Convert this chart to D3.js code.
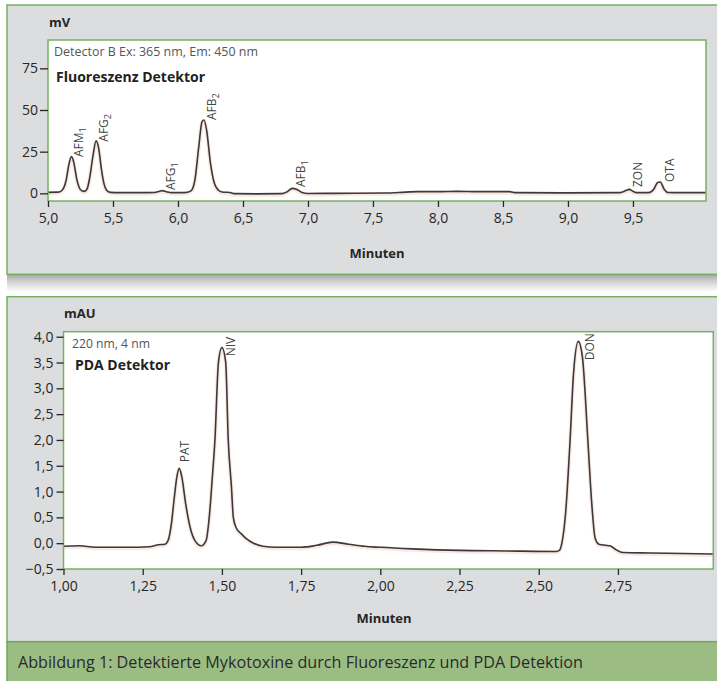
<!DOCTYPE html>
<html>
<head>
<meta charset="utf-8">
<script src="https://cdn.jsdelivr.net/npm/d3@7"></script>
<style>
  body { margin: 0; background: #ffffff; }
  svg { display: block; }
  text { font-family: "Open Sans", "Noto Sans", "DejaVu Sans", sans-serif; }
</style>
</head>
<body>
<svg id="chart" width="717" height="681"></svg>
<script>
// ---- Fluorescence detector trace (minutes, mV) ----
const fluoTime = [5.00, 5.08, 5.11, 5.14, 5.16, 5.18, 5.20, 5.22, 5.24, 5.26, 5.28, 5.30, 5.32, 5.345, 5.37, 5.39, 5.41, 5.43, 5.45, 5.48,
  5.55, 5.70, 5.82, 5.86, 5.88, 5.91, 5.95, 6.05, 6.10, 6.13, 6.16, 6.185, 6.20, 6.22, 6.25, 6.28, 6.31, 6.34, 6.40, 6.43,
  6.60, 6.80, 6.84, 6.88, 6.91, 6.95, 7.00, 7.20, 7.60, 7.70, 7.85, 8.00, 8.15, 8.30, 8.55, 8.60, 9.00, 9.40, 9.45, 9.47,
  9.50, 9.53, 9.62, 9.66, 9.69, 9.71, 9.74, 9.77, 9.85, 10.06];
const fluoSignal = [0.6, 0.7, 2.0, 8.0, 17.0, 22.0, 18.0, 9.0, 3.5, 1.5, 1.2, 2.5, 9.0, 22.0, 31.5, 27.0, 15.0, 6.0, 2.0, 0.6,
  0.4, 0.4, 0.5, 1.3, 1.6, 1.0, 0.4, 0.4, 1.5, 8.0, 28.0, 43.0, 44.0, 38.0, 18.0, 6.0, 2.0, 0.8, 0.5, -0.2,
  -0.3, -0.2, 1.0, 3.0, 2.5, 0.7, -0.1, 0.0, 0.2, 0.5, 1.0, 1.0, 1.2, 1.0, 1.0, 0.4, 0.3, 0.4, 1.8, 2.4,
  1.2, 0.4, 0.4, 2.5, 6.5, 6.8, 2.5, 0.5, 0.4, 0.4];

// Peak names and where their labels sit (minutes, mV)
const fluoPeakNames = ["AFM", "AFG", "AFG", "AFB", "AFB", "ZON", "OTA"];
const fluoPeakSubs  = ["1", "2", "1", "2", "1", "", ""];
const fluoLabelTime = [5.269, 5.462, 5.977, 6.292, 6.977, 9.569, 9.815];
const fluoLabelValue = [21.8, 31.0, 2.0, 44.0, 3.8, 3.8, 6.8];

const fluoXTicks = [5.0, 5.5, 6.0, 6.5, 7.0, 7.5, 8.0, 8.5, 9.0, 9.5];
const fluoYTicks = [0, 25, 50, 75];

// ---- PDA detector trace (minutes, mAU) ----
const pdaTime = [1.00, 1.05, 1.10, 1.20, 1.27, 1.30, 1.32, 1.33, 1.34, 1.35, 1.357, 1.365, 1.373, 1.386, 1.40, 1.415, 1.435,
  1.45, 1.46, 1.47, 1.478, 1.489, 1.50, 1.512, 1.52, 1.53, 1.536, 1.545, 1.563, 1.575, 1.60, 1.63, 1.67, 1.75, 1.80, 1.85,
  1.90, 1.95, 2.00, 2.10, 2.25, 2.40, 2.555, 2.565, 2.573, 2.585, 2.599, 2.61, 2.625, 2.638, 2.655, 2.667, 2.678, 2.69,
  2.71, 2.725, 2.745, 2.765, 2.85, 2.95, 3.05];
const pdaSignal = [-0.06, -0.05, -0.08, -0.08, -0.07, -0.03, -0.02, 0.05, 0.35, 0.9, 1.25, 1.45, 1.3, 0.75, 0.3, 0.05, -0.05,
  0.05, 0.5, 1.3, 2.0, 3.5, 3.79, 3.5, 2.0, 1.1, 0.5, 0.3, 0.17, 0.1, 0.0, -0.06, -0.08, -0.08, -0.04, 0.02,
  -0.02, -0.06, -0.08, -0.11, -0.14, -0.15, -0.16, -0.14, 0.0, 0.6, 2.0, 3.3, 3.91, 3.6, 2.0, 0.8, 0.1, -0.02,
  -0.04, -0.05, -0.13, -0.18, -0.19, -0.20, -0.21];

const pdaPeakNames = ["PAT", "NIV", "DON"];
const pdaLabelTime = [1.396, 1.541, 2.675];
const pdaLabelValue = [1.567, 3.62, 3.545];

const pdaXTicks = [1.00, 1.25, 1.50, 1.75, 2.00, 2.25, 2.50, 2.75];
const pdaYTicks = [-0.5, 0.0, 0.5, 1.0, 1.5, 2.0, 2.5, 3.0, 3.5, 4.0];

// ---- styling ----
const GREEN = "#77b062";
const PANEL = "#dcdddf";
const INK = "#262626";
const comma = f => v => f(v).replace(".", ",");

const svg = d3.select("#chart");

// shadow under the first panel
const defs = svg.append("defs");
const grad = defs.append("linearGradient").attr("id", "shadow").attr("x1", 0).attr("y1", 0).attr("x2", 0).attr("y2", 1);
grad.append("stop").attr("offset", "0%").attr("stop-color", "#a9a9a9");
grad.append("stop").attr("offset", "35%").attr("stop-color", "#cfcfcf");
grad.append("stop").attr("offset", "100%").attr("stop-color", "#ffffff");
svg.append("rect").attr("x", 7).attr("y", 275).attr("width", 712).attr("height", 17).attr("fill", "url(#shadow)");

function drawPanel(cfg) {
  const g = svg.append("g");
  // panel background
  g.append("rect").attr("x", cfg.frame[0]).attr("y", cfg.frame[1])
    .attr("width", cfg.frame[2]).attr("height", cfg.frame[3])
    .attr("fill", PANEL).attr("stroke", GREEN).attr("stroke-width", 1.5);

  const x = d3.scaleLinear().domain(cfg.xDomain).range([cfg.plot.left, cfg.plot.right]);
  const y = d3.scaleLinear().domain(cfg.yDomain).range([cfg.plot.bottom, cfg.plot.top]);

  // plot area
  g.append("rect").attr("x", cfg.plot.left).attr("y", cfg.plot.top)
    .attr("width", cfg.plot.right - cfg.plot.left).attr("height", cfg.plot.bottom - cfg.plot.top)
    .attr("fill", "#ffffff");

  // trace
  const pts = cfg.time.map((t, i) => [t, cfg.signal[i]]);
  const line = d3.line().x(d => x(d[0])).y(d => y(d[1])).curve(d3.curveMonotoneX);
  g.append("path").datum(pts).attr("d", line).attr("fill", "none")
    .attr("stroke", "#f1bfb0").attr("stroke-width", 4).attr("stroke-opacity", 0.35)
    .attr("transform", "translate(0,1)");
  g.append("path").datum(pts).attr("d", line).attr("fill", "none")
    .attr("stroke", "#3a3a3a").attr("stroke-width", 1.6).attr("stroke-linejoin", "round");

  // plot frame on top of the trace
  g.append("rect").attr("x", cfg.plot.left).attr("y", cfg.plot.top)
    .attr("width", cfg.plot.right - cfg.plot.left).attr("height", cfg.plot.bottom - cfg.plot.top)
    .attr("fill", "none").attr("stroke", GREEN).attr("stroke-width", 1.5);

  // axes
  const xAxis = d3.axisBottom(x).tickValues(cfg.xTicks).tickFormat(cfg.xFormat)
    .tickSizeInner(6).tickSizeOuter(0).tickPadding(6);
  const gx = g.append("g").attr("transform", `translate(0,${cfg.plot.bottom})`).call(xAxis);
  const yAxis = d3.axisLeft(y).tickValues(cfg.yTicks).tickFormat(cfg.yFormat)
    .tickSizeInner(cfg.yTickSize).tickSizeOuter(0).tickPadding(cfg.yPad);
  const gy = g.append("g").attr("transform", `translate(${cfg.plot.left},0)`).call(yAxis);
  [gx, gy].forEach(a => {
    a.select(".domain").remove();
    a.selectAll(".tick line").attr("stroke", INK).attr("stroke-width", 1.3);
    a.selectAll(".tick text").attr("fill", INK).style("font-size", "14px")
      .style("font-family", '"Open Sans", "Noto Sans", sans-serif');
  });

  // unit and axis title
  g.append("text").attr("x", cfg.unitPos[0]).attr("y", cfg.unitPos[1]).attr("dy", "0.35em")
    .attr("fill", INK).style("font-size", "13px").style("font-weight", 700).text(cfg.unit);
  g.append("text").attr("x", cfg.titlePos[0]).attr("y", cfg.titlePos[1]).attr("dy", "0.35em")
    .attr("text-anchor", "middle").attr("fill", INK)
    .style("font-size", "13px").style("font-weight", 700).text("Minuten");

  // detector notes
  g.append("text").attr("x", cfg.notePos[0]).attr("y", cfg.notePos[1]).attr("dy", "0.35em")
    .attr("fill", "#555555").style("font-size", "12px")
    .attr("textLength", cfg.noteLen).attr("lengthAdjust", "spacingAndGlyphs").text(cfg.note);
  g.append("text").attr("x", cfg.namePos[0]).attr("y", cfg.namePos[1]).attr("dy", "0.35em")
    .attr("fill", "#222222").style("font-size", "15px").style("font-weight", 700)
    .attr("textLength", cfg.nameLen).attr("lengthAdjust", "spacingAndGlyphs").text(cfg.name);

  // peak labels, rotated to read upwards
  cfg.labels.forEach((lab, i) => {
    const t = g.append("text")
      .attr("transform", `translate(${x(cfg.labelTime[i])},${y(cfg.labelValue[i])}) rotate(-90)`)
      .attr("fill", "#444444").style("font-size", "12px");
    t.append("tspan").text(lab);
    if (cfg.subs && cfg.subs[i]) {
      t.append("tspan").attr("dy", 3).style("font-size", "9px").text(cfg.subs[i]);
    }
  });
}

drawPanel({
  frame: [7, 5, 714, 269.3],
  plot: { left: 48, right: 706, top: 40, bottom: 201 },
  xDomain: [5.0, 10.062], yDomain: [-4.6, 92],
  time: fluoTime, signal: fluoSignal,
  xTicks: fluoXTicks, yTicks: fluoYTicks,
  xFormat: comma(d3.format(".1f")), yFormat: d3.format("d"),
  yTickSize: 8, yPad: 2,
  unit: "mV", unitPos: [49, 22],
  titlePos: [377, 253],
  note: "Detector B Ex: 365 nm, Em: 450 nm", notePos: [54, 52], noteLen: 204,
  name: "Fluoreszenz Detektor", namePos: [56, 77], nameLen: 149,
  labels: fluoPeakNames, subs: fluoPeakSubs,
  labelTime: fluoLabelTime, labelValue: fluoLabelValue
});

drawPanel({
  frame: [7, 296.7, 714, 345],
  plot: { left: 63.5, right: 713.3, top: 331.7, bottom: 569 },
  xDomain: [1.0, 3.051], yDomain: [-0.5, 4.097],
  time: pdaTime, signal: pdaSignal,
  xTicks: pdaXTicks, yTicks: pdaYTicks,
  xFormat: comma(d3.format(".2f")), yFormat: comma(d3.format(".1f")),
  yTickSize: 7, yPad: 3,
  unit: "mAU", unitPos: [64, 313],
  titlePos: [384, 618],
  note: "220 nm, 4 nm", notePos: [72, 344], noteLen: 78,
  name: "PDA Detektor", namePos: [75, 365], nameLen: 95,
  labels: pdaPeakNames, subs: null,
  labelTime: pdaLabelTime, labelValue: pdaLabelValue
});

// caption band
svg.append("rect").attr("x", 7).attr("y", 641.7).attr("width", 714).attr("height", 45)
  .attr("fill", "#9bbd84").attr("stroke", "#6fa85a").attr("stroke-width", 1.5);
svg.append("text").attr("x", 18).attr("y", 662).attr("dy", "0.35em")
  .attr("fill", "#2a2a2a").style("font-size", "17px")
  .attr("textLength", 565).attr("lengthAdjust", "spacingAndGlyphs")
  .text("Abbildung 1: Detektierte Mykotoxine durch Fluoreszenz und PDA Detektion");
</script>
</body>
</html>
